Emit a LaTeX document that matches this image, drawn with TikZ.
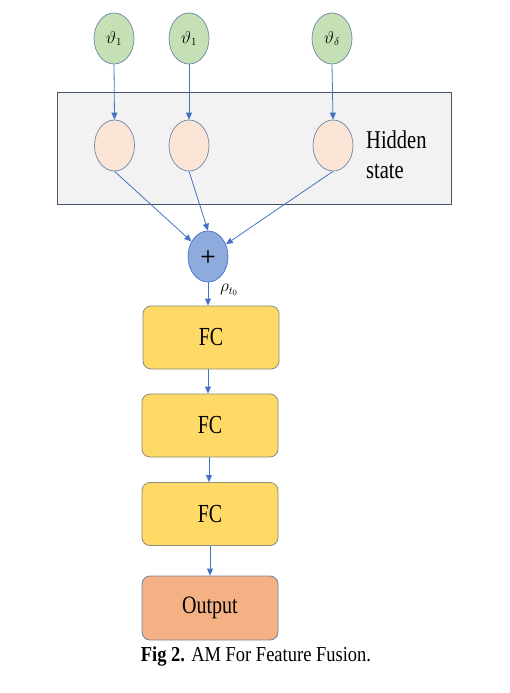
\documentclass[tikz,border=0pt]{standalone}
\usepackage{fontspec}
\usepackage{graphicx}
\setmainfont{Liberation Serif}
\usetikzlibrary{arrows.meta,shapes.geometric}
\definecolor{arrowblue}{HTML}{4472C4}
\definecolor{greenfill}{HTML}{C5E0B4}
\definecolor{pinkfill}{HTML}{FBE5D6}
\definecolor{plusfill}{HTML}{8FAADC}
\definecolor{fcfill}{HTML}{FFD966}
\definecolor{outfill}{HTML}{F4B183}
\definecolor{boxfill}{HTML}{F2F2F2}
\definecolor{boxedge}{HTML}{44546A}
\definecolor{elledge}{HTML}{6E86A6}
\definecolor{fcedge}{HTML}{8C8C7C}
\tikzset{
  inputell/.style={ellipse, draw=elledge, fill=greenfill, minimum width=40pt, minimum height=51pt, inner sep=0pt, line width=0.7pt, font=\fontsize{16}{18}\selectfont},
  hiddenell/.style={ellipse, draw=elledge, fill=pinkfill, minimum width=40pt, minimum height=51pt, inner sep=0pt, line width=0.7pt},
  plusell/.style={ellipse, draw=arrowblue, fill=plusfill, minimum width=40pt, minimum height=51pt, inner sep=0pt, line width=0.7pt},
  fcbox/.style={rectangle, rounded corners=8pt, draw=fcedge, fill=fcfill, minimum width=136pt, minimum height=63pt, inner sep=0pt, line width=0.8pt, font=\fontsize{20}{24}\selectfont},
  outbox/.style={rectangle, rounded corners=8pt, draw=elledge, fill=outfill, minimum width=136pt, minimum height=64pt, inner sep=0pt, line width=0.8pt, font=\fontsize{20}{24}\selectfont},
  conn/.style={draw=arrowblue, line width=0.8pt, -{Triangle[length=7pt,width=6pt]}},
}
\begin{document}
\begin{tikzpicture}[x=1pt,y=-1pt]
\useasboundingbox (0,0) rectangle (509,693);
% hidden state panel
\node[draw=boxedge, fill=boxfill, line width=0.7pt, minimum width=394pt, minimum height=112pt, inner sep=0pt] (panel) at (254,148) {};
% inputs
\node[inputell] (g1) at (114,38.5) {$\vartheta_1$};
\node[inputell] (g2) at (189,38.5) {$\vartheta_1$};
\node[inputell] (g3) at (332,38.5) {$\vartheta_\delta$};
% hidden
\node[hiddenell] (h1) at (114.5,145.5) {};
\node[hiddenell] (h2) at (189,145.5) {};
\node[hiddenell] (h3) at (333,145.5) {};
\node[anchor=west, align=left, font=\fontsize{20.5}{30}\selectfont, inner sep=0pt] (hs) at (366,155) {\scalebox{1}[1.25]{Hidden}\\\scalebox{1}[1.25]{state}};
% plus
\node[plusell, font=\fontsize{18}{20}\selectfont\bfseries\sffamily] (plus) at (208,256.5) {+};
\node[font=\fontsize{16}{18}\selectfont] (rho) at (229,290) {$\rho_{t_0}$};
% FC stack
\node[fcbox] (fc1) at (211,337.5) {\scalebox{1}[1.3]{FC}};
\node[fcbox] (fc2) at (210,425.5) {\scalebox{1}[1.3]{FC}};
\node[fcbox] (fc3) at (210,514) {\scalebox{1}[1.3]{FC}};
\node[outbox] (out) at (210,608) {\scalebox{1}[1.25]{Output}};
% caption
\node[font=\fontsize{18.5}{22}\selectfont] (cap) at (256,656) {\scalebox{1}[1.15]{\textbf{Fig 2.} AM For Feature Fusion.}};
% connectors
\draw[conn] (g1.south) -- (h1.north);
\draw[conn] (g2.south) -- (h2.north);
\draw[conn] (g3.south) -- (h3.north);
\draw[conn] (h1.south) -- (plus);
\draw[conn] (h2.south) -- (plus.north);
\draw[conn] (h3.south) -- (plus);
\draw[conn] (plus.south) -- (plus.south |- fc1.north);
\draw[conn] (fc1.south -| 208,0) -- (fc2.north -| 208,0);
\draw[conn] (fc2.south -| 209,0) -- (fc3.north -| 209,0);
\draw[conn] (fc3.south -| 210,0) -- (out.north -| 210,0);
\end{tikzpicture}
\end{document}
